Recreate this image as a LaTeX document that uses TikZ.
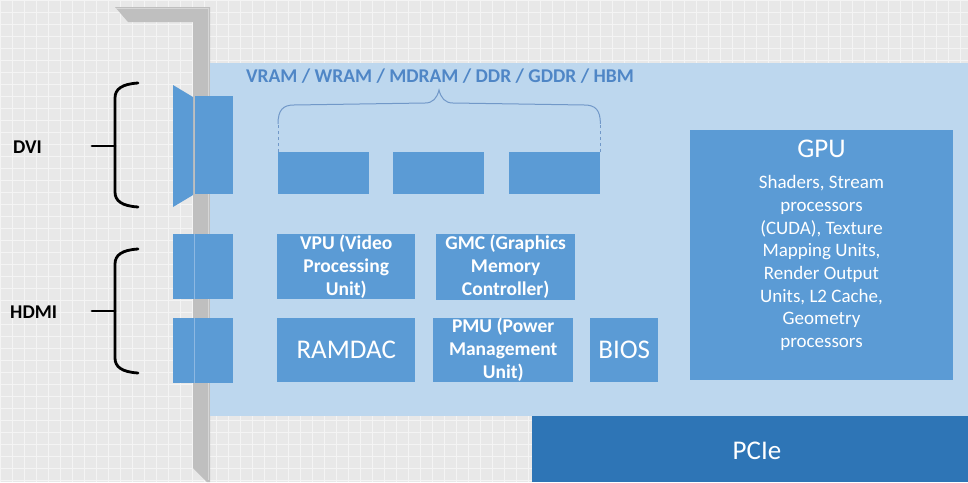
\documentclass[tikz,border=0pt]{standalone}
\usepackage{fontspec}
\setmainfont{Carlito}
\usetikzlibrary{calc}
\definecolor{bgGray}{HTML}{E8E8E8}
\definecolor{gridGray}{HTML}{F4F4F4}
\definecolor{board}{HTML}{BDD7EE}
\definecolor{chip}{HTML}{5B9BD5}
\definecolor{pcie}{HTML}{2E75B6}
\definecolor{metal}{HTML}{BFBFBF}
\definecolor{metalEdge}{HTML}{D6D6D6}
\definecolor{memText}{HTML}{4F86C6}
\definecolor{braceBlue}{HTML}{7198C8}
\definecolor{divider}{HTML}{8DB8E2}
\begin{document}
\begin{tikzpicture}[x=1pt,y=-1pt,
  chipbox/.style={fill=chip, draw=none, inner sep=0pt, anchor=north west, text=white, align=center},
  small/.style={font=\fontsize{19.5}{23}\selectfont\bfseries},
  big/.style={font=\fontsize{27}{30}\selectfont},
  bracebk/.style={draw=black, line width=2.8pt, line cap=round},
]
\useasboundingbox (0,0) rectangle (968,482);
% background
\fill[bgGray] (0,0) rectangle (968,482);
\draw[gridGray, line width=0.8pt, step=12pt] (0,0) grid (968,482);
% metal bracket
\fill[metal] (115,7) -- (210,7) -- (210,482) -- (207,482) -- (193,468) -- (193,22) -- (128,22) -- cycle;
\draw[metalEdge, line width=1pt] (116,8) -- (208,8) -- (208,480);
% board
\fill[board] (210,63) rectangle (968,416);
% PCIe
\node[fill=pcie, minimum width=436pt, minimum height=66pt, inner sep=0pt, anchor=north west] (pcie) at (532,416) {};
\node[big, text=white] (pcielbl) at (757,451) {PCIe};
% DVI connector
\fill[chip] (173,85) coordinate (dvitl) -- (193,97) -- (193,195) -- (173,207) -- cycle;
\node[chipbox, minimum width=38pt, minimum height=98pt] (dvi) at (195,96) {};
% HDMI connectors
\node[chipbox, minimum width=60pt, minimum height=65pt] (hdmiA) at (173,234) {};
\node[chipbox, minimum width=60pt, minimum height=65pt] (hdmiB) at (173,318) {};
\draw[divider, line width=0.8pt] ([xshift=21pt]hdmiA.north west) -- ([xshift=21pt]hdmiA.south west);
\draw[divider, line width=0.8pt] ([xshift=21pt]hdmiB.north west) -- ([xshift=21pt]hdmiB.south west);
% braces
\draw[bracebk] (138,83) .. controls (122,84) and (115,89) .. (115,98) -- (115,192) .. controls (115,201) and (122,206) .. (138,207);
\coordinate (dvitip) at (115,146);
\draw[bracebk] (dvitip) -- (92,146) coordinate (dvitick);
\draw[bracebk] (138,249) .. controls (122,250) and (115,255) .. (115,264) -- (115,358) .. controls (115,367) and (122,372) .. (138,373);
\coordinate (hdmitip) at (115,311);
\draw[bracebk] (hdmitip) -- (92,311) coordinate (hdmitick);
\node[small, anchor=west, inner sep=0pt] (dvilbl) at (13,147) {DVI};
\node[small, anchor=west, inner sep=0pt] (hdmilbl) at (10,312) {HDMI};
% memory chips
\node[chipbox, minimum width=91pt, minimum height=42pt] (m1) at (278,152) {};
\node[chipbox, minimum width=91pt, minimum height=42pt] (m2) at (393,152) {};
\node[chipbox, minimum width=91pt, minimum height=42pt] (m3) at (509,152) {};
\node[small, text=memText] (memlbl) at (440,76) {VRAM / WRAM / MDRAM / DDR / GDDR / HBM};
% memory brace
\draw[braceBlue, line width=1pt, dashed] (m1.north west) -- ++(0,-28) coordinate (bl);
\draw[braceBlue, line width=1pt, dashed] (m3.north east) -- ++(0,-28) coordinate (br);
\draw[braceBlue, line width=1pt] (bl) .. controls ($(bl)+(0,-14)$) and ($(bl)+(5,-19)$) .. ($(bl)+(16,-19)$) -- (425,103) .. controls (433,103) and (437,98) .. (439,90)
  .. controls (441,98) and (445,103) .. (453,103) -- ($(br)+(-16,-19)$) .. controls ($(br)+(-5,-19)$) and ($(br)+(0,-14)$) .. (br);
% row 2
\node[chipbox, small, minimum width=138pt, minimum height=65pt] (vpu) at (277,234) {VPU (Video\\Processing\\Unit)};
\node[chipbox, small, minimum width=139pt, minimum height=66pt] (gmc) at (436,234) {GMC (Graphics\\Memory\\Controller)};
% row 3
\node[chipbox, big, minimum width=138pt, minimum height=64pt] (ramdac) at (277,318) {RAMDAC};
\node[chipbox, small, minimum width=140pt, minimum height=64pt] (pmu) at (433,318) {PMU (Power\\Management\\Unit)};
\node[chipbox, big, minimum width=68pt, minimum height=64pt] (bios) at (590,318) {BIOS};
% GPU
\node[chipbox, minimum width=263pt, minimum height=250pt] (gpu) at (690,130) {};
\node[big, text=white] (gputitle) at (821.5,149) {GPU};
\node[text=white, align=center, font=\fontsize{19}{22.7}\selectfont] (gpubody) at (821.5,263)
  {Shaders, Stream\\processors\\(CUDA), Texture\\Mapping Units,\\Render Output\\Units, L2 Cache,\\Geometry\\processors};
\end{tikzpicture}
\end{document}
